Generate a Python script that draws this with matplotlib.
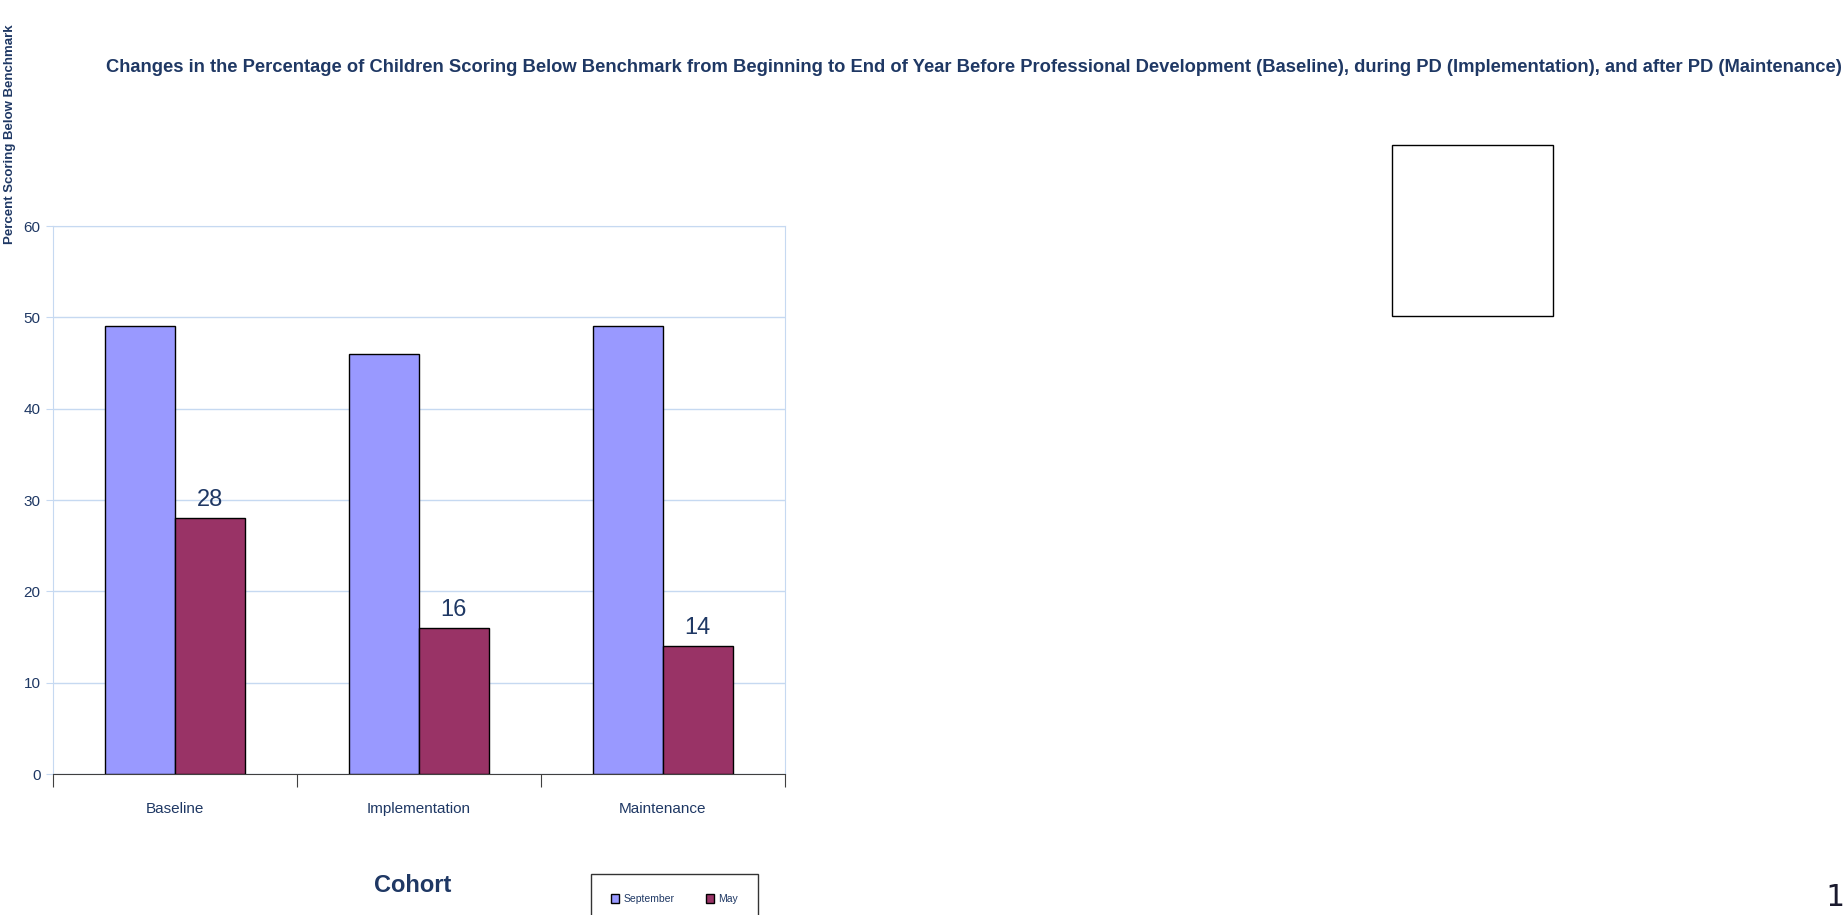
import matplotlib
matplotlib.use("Agg")
import matplotlib.pyplot as plt
from matplotlib.patches import Rectangle
import numpy as np

# data
cohorts = ["Baseline", "Implementation", "Maintenance"]
september = [49, 46, 49]
may = [28, 16, 14]
yticks = [0, 10, 20, 30, 40, 50, 60]

navy = "#1F3864"
grid_c = "#C6D9F1"

# no narrow font available, Liberation Sans is the closest
plt.rcParams['font.family'] = ["Liberation Sans", "DejaVu Sans"]

fig = plt.figure(figsize=(18.45, 9.15), dpi=100)
ax = fig.add_axes([53/1845, 1-774/915, 732/1845, 548/915])

x = np.arange(len(cohorts))
w = 0.285
ax.bar(x - w/2, september, w, color="#9999FF", edgecolor="black", linewidth=1, label="September", zorder=3)
bars = ax.bar(x + w/2, may, w, color="#993366", edgecolor="black", linewidth=1, label="May", zorder=3)
for b, v in zip(bars, may):
    ax.text(b.get_x() + b.get_width()/2, v + 0.8, str(v), ha="center", va="bottom",
            fontsize=17, color=navy)

ax.set_xlim(-0.5, len(cohorts) - 0.5)
ax.set_ylim(0, 60)
ax.set_yticks(yticks)
ax.yaxis.grid(True, color=grid_c, linewidth=1, zorder=0)
ax.set_axisbelow(True)

# category boundaries get the tick marks, labels sit in between
ax.set_xticks(np.arange(-0.5, len(cohorts), 1.0))
ax.set_xticklabels([])
ax.set_xticks(x, minor=True)
ax.set_xticklabels(cohorts, minor=True)
ax.tick_params(axis="x", which="major", length=9, color="#404040", direction="out")
ax.tick_params(axis="x", which="minor", length=0, pad=20, labelsize=11, labelcolor=navy)
ax.tick_params(axis="y", length=5, color=grid_c, labelsize=11, labelcolor=navy, pad=4)

for s in ["left", "top", "right"]:
    ax.spines[s].set_color(grid_c)
ax.spines["bottom"].set_color("#404040")

fig.text(974/1845, 1-67/915,
         "Changes in the Percentage of Children Scoring Below Benchmark from Beginning to End of Year "
         "Before Professional Development (Baseline), during PD (Implementation), and after PD (Maintenance)",
         ha="center", va="center", fontsize=13.2, fontweight="bold", color=navy)

fig.text(10/1845, 1-134/915, "Percent Scoring Below Benchmark", rotation=90,
         ha="center", va="center", fontsize=9.5, fontweight="bold", color=navy)

fig.text(413/1845, 1-885/915, "Cohort", ha="center", va="center",
         fontsize=17, fontweight="bold", color=navy)

leg = fig.legend(loc="upper left", bbox_to_anchor=(591/1845, 1-874/915), ncol=2,
                 fontsize=7.5, frameon=True, fancybox=False, handlelength=0.8,
                 handleheight=1.0, columnspacing=3.0, borderpad=1.9, handletextpad=0.4,
                 borderaxespad=0)
leg.get_frame().set_edgecolor("black")
leg.get_frame().set_linewidth(1)
for t in leg.get_texts():
    t.set_color(navy)

# empty box on the right
fig.patches.append(Rectangle((1392/1845, 1-316/915), 161/1845, 171/915,
                             transform=fig.transFigure, fill=False,
                             edgecolor="black", linewidth=1))

fig.text(1844/1845, 1-897/915, "1", ha="right", va="center", fontsize=22,
         family="DejaVu Sans Mono", color="#1a1a2e")

fig.savefig("out.png", dpi=100)
